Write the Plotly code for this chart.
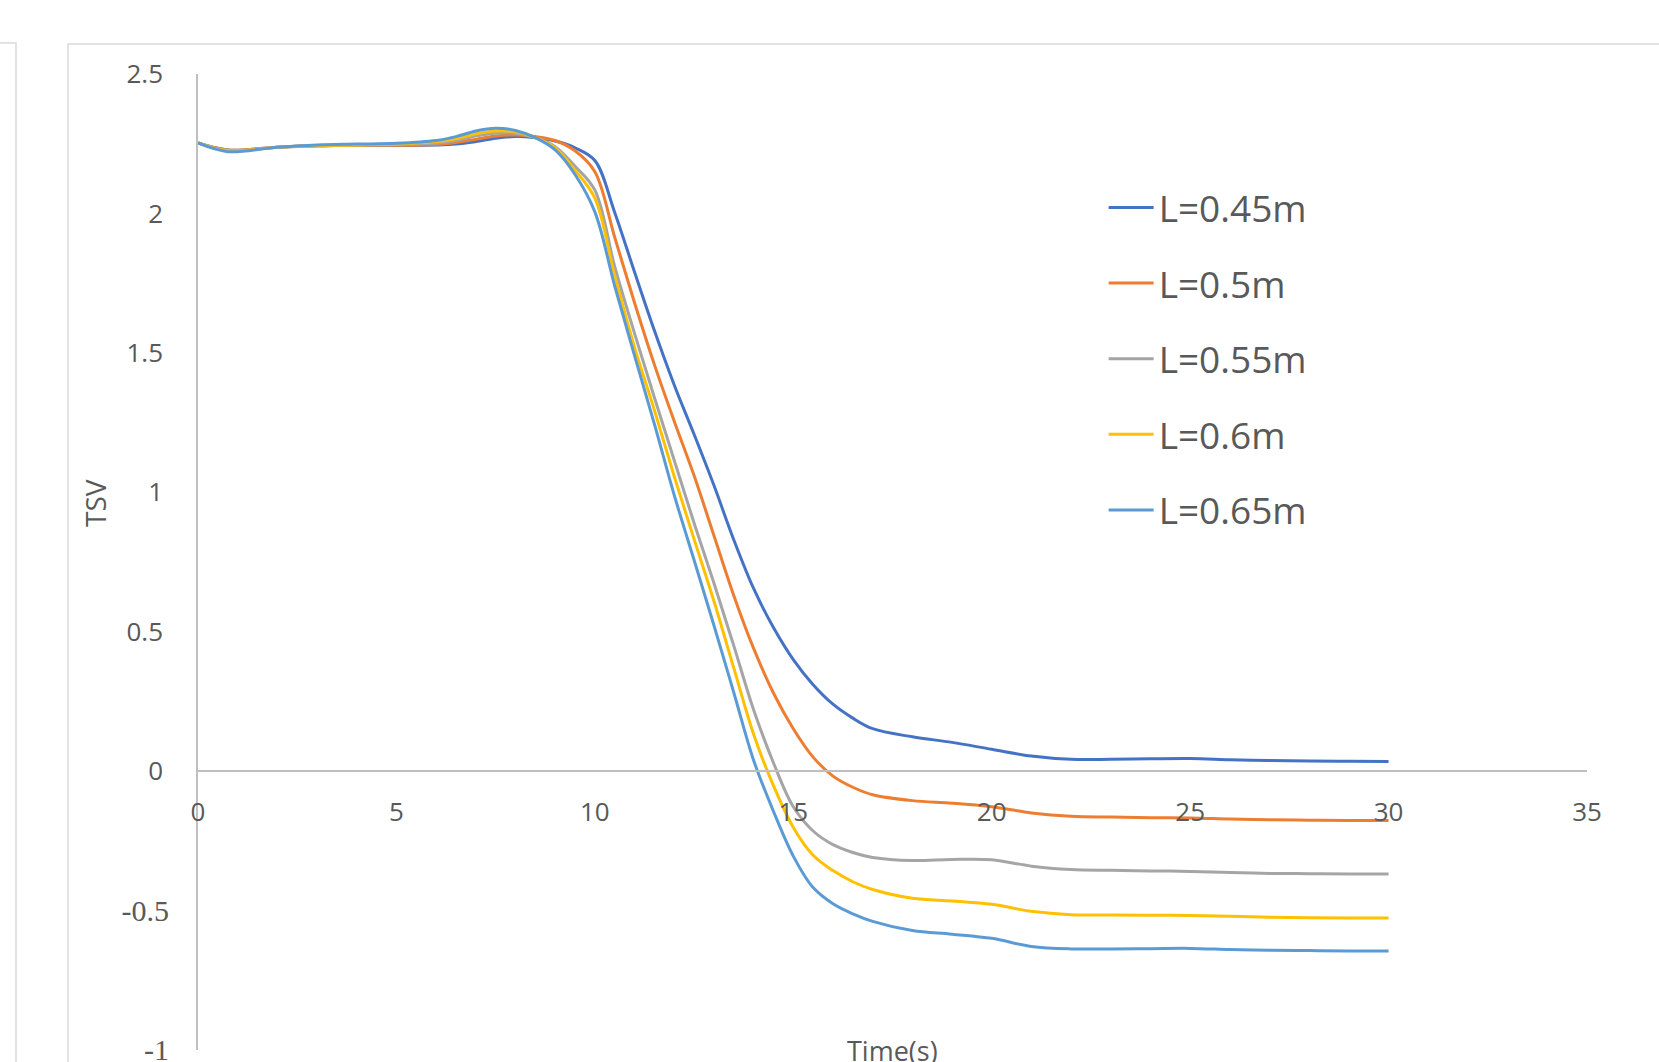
import plotly.graph_objects as go

# ---------------- data ----------------
time_s = [0, 0.75, 2, 3, 4, 5, 6, 6.5, 7, 7.5, 8, 8.5, 9, 9.5, 10, 10.5, 11, 11.5, 12, 12.5,
          13, 13.5, 14, 14.5, 15, 15.5, 16, 16.5, 17, 18, 19, 20, 21, 22, 23, 24, 25, 26,
          27, 28, 29, 30]

tsv_L045 = [2.253, 2.228, 2.238, 2.243, 2.245, 2.245, 2.246, 2.249, 2.258, 2.270, 2.276, 2.272,
            2.260, 2.236, 2.190, 2.004, 1.790, 1.580, 1.385, 1.208, 1.025, 0.830, 0.655, 0.515,
            0.400, 0.310, 0.240, 0.190, 0.152, 0.123, 0.103, 0.078, 0.054, 0.042, 0.042, 0.044,
            0.045, 0.041, 0.038, 0.036, 0.035, 0.034]

tsv_L050 = [2.253, 2.228, 2.238, 2.243, 2.245, 2.245, 2.248, 2.255, 2.266, 2.278, 2.282, 2.276,
            2.262, 2.225, 2.150, 1.915, 1.680, 1.458, 1.255, 1.060, 0.845, 0.630, 0.440, 0.280,
            0.152, 0.050, -0.018, -0.058, -0.085, -0.106, -0.115, -0.128, -0.150, -0.162, -0.165,
            -0.167, -0.168, -0.172, -0.175, -0.176, -0.177, -0.177]

tsv_L055 = [2.253, 2.226, 2.238, 2.243, 2.246, 2.248, 2.252, 2.262, 2.278, 2.288, 2.288, 2.272,
            2.240, 2.170, 2.084, 1.810, 1.570, 1.340, 1.115, 0.890, 0.675, 0.450, 0.220, 0.030,
            -0.128, -0.215, -0.264, -0.292, -0.310, -0.321, -0.317, -0.318, -0.341, -0.353,
            -0.356, -0.358, -0.360, -0.364, -0.367, -0.368, -0.369, -0.369]

tsv_L060 = [2.253, 2.225, 2.238, 2.244, 2.246, 2.249, 2.258, 2.268, 2.286, 2.296, 2.293, 2.272,
            2.235, 2.155, 2.055, 1.777, 1.520, 1.295, 1.057, 0.832, 0.610, 0.370, 0.132, -0.052,
            -0.202, -0.302, -0.357, -0.397, -0.425, -0.456, -0.466, -0.478, -0.503, -0.515,
            -0.516, -0.517, -0.518, -0.521, -0.524, -0.526, -0.527, -0.527]

tsv_L065 = [2.253, 2.222, 2.238, 2.246, 2.249, 2.252, 2.262, 2.276, 2.296, 2.306, 2.298, 2.272,
            2.228, 2.140, 2.006, 1.740, 1.490, 1.245, 0.990, 0.757, 0.523, 0.282, 0.039, -0.144,
            -0.305, -0.418, -0.476, -0.512, -0.539, -0.572, -0.585, -0.600, -0.629, -0.638,
            -0.638, -0.637, -0.636, -0.640, -0.643, -0.644, -0.645, -0.645]

series_names = ["L=0.45m", "L=0.5m", "L=0.55m", "L=0.6m", "L=0.65m"]
series_values = [tsv_L045, tsv_L050, tsv_L055, tsv_L060, tsv_L065]
series_colors = ["#4472C4", "#ED7D31", "#A5A5A5", "#FFC000", "#5B9BD5"]

# positive y ticks (sans face) and negative y ticks (serif face) as in the reference
y_tick_pos_vals = [2.5, 2, 1.5, 1, 0.5, 0]
y_tick_pos_text = ["2.5", "2", "1.5", "1", "0.5", "0"]
y_tick_neg_vals = [-0.5, -1]
y_tick_neg_text = ["-0.5", "-1"]
x_tick_vals = [0, 5, 10, 15, 20, 25, 30, 35]
x_tick_text = ["0", "5", "10", "15", "20", "25", "30", "35"]

# ---------------- figure ----------------
SANS = "Open Sans"
SERIF = "Liberation Serif"
TXT = "#595959"
AXIS = "#BFBFBF"

fig = go.Figure()
for name, vals, col in zip(series_names, series_values, series_colors):
    fig.add_trace(go.Scatter(
        x=time_s, y=vals, name=name, mode="lines",
        line=dict(color=col, width=3, shape="spline", smoothing=1.0),
        legendgroup=name,
    ))
# empty trace that only registers the overlaid axis carrying the serif labels
fig.add_trace(go.Scatter(x=[], y=[], yaxis="y2", showlegend=False, hoverinfo="skip"))

y_min, y_max = -1.0005, 2.5005
fig.update_layout(
    width=1659, height=1062,
    margin=dict(l=198, r=72, t=74, b=12, autoexpand=False),
    paper_bgcolor="white", plot_bgcolor="white",
    font=dict(family=SANS, color=TXT, size=26),
    showlegend=True,
    legend=dict(
        x=0.652, y=0.8945, xanchor="left", yanchor="top",
        font=dict(family=SANS, size=37, color=TXT),
        bgcolor="rgba(0,0,0,0)", borderwidth=0,
        traceorder="grouped", tracegroupgap=24.5, itemwidth=45,
    ),
    xaxis=dict(
        range=[0, 35], anchor="free", position=(0 - y_min) / (y_max - y_min),
        showline=True, linecolor=AXIS, linewidth=1.5,
        showgrid=False, zeroline=False, ticks="",
        tickmode="array", tickvals=x_tick_vals, ticktext=x_tick_text,
        tickfont=dict(family=SANS, size=26, color=TXT),
        ticklabelstandoff=18, automargin=False,
    ),
    yaxis=dict(
        range=[y_min, y_max],
        showline=True, linecolor=AXIS, linewidth=1.5,
        showgrid=False, zeroline=False, ticks="",
        tickmode="array", tickvals=y_tick_pos_vals, ticktext=y_tick_pos_text,
        tickfont=dict(family=SANS, size=26, color=TXT),
        ticklabelstandoff=28, ticklabeloverflow="allow", automargin=False,
    ),
    yaxis2=dict(
        range=[y_min, y_max], overlaying="y", side="left", anchor="x",
        showline=False, showgrid=False, zeroline=False, ticks="",
        tickmode="array", tickvals=y_tick_neg_vals, ticktext=y_tick_neg_text,
        tickfont=dict(family=SERIF, size=30, color=TXT),
        ticklabelstandoff=28, ticklabeloverflow="allow", automargin=False,
    ),
)

# axis titles
fig.add_annotation(text="TSV", xref="paper", yref="paper",
                   x=(95 - 198) / 1389, y=(1050 - 503) / 976,
                   xanchor="center", yanchor="middle",
                   textangle=-90, showarrow=False,
                   font=dict(family=SANS, size=28, color=TXT))
fig.add_annotation(text="Time(s)", xref="paper", yref="paper",
                   x=0.5, y=(1050 - 1030) / 976, yanchor="top",
                   showarrow=False, font=dict(family=SANS, size=27, color=TXT))

# chart frame borders (Excel-like chart area box, partially cropped)
def px_x(p):
    return (p - 198) / 1389

def px_y(p):
    return (1050 - p) / 976

fig.add_shape(type="path", xref="paper", yref="paper",
              path=f"M {px_x(68)},{px_y(1100)} L {px_x(68)},{px_y(44)} L {px_x(1700)},{px_y(44)}",
              line=dict(color="#D9D9D9", width=1.5), layer="below")
fig.add_shape(type="path", xref="paper", yref="paper",
              path=f"M {px_x(-20)},{px_y(43)} L {px_x(16)},{px_y(43)} L {px_x(16)},{px_y(1100)}",
              line=dict(color="#D9D9D9", width=1.5), layer="below")

fig.write_html("out.html")
